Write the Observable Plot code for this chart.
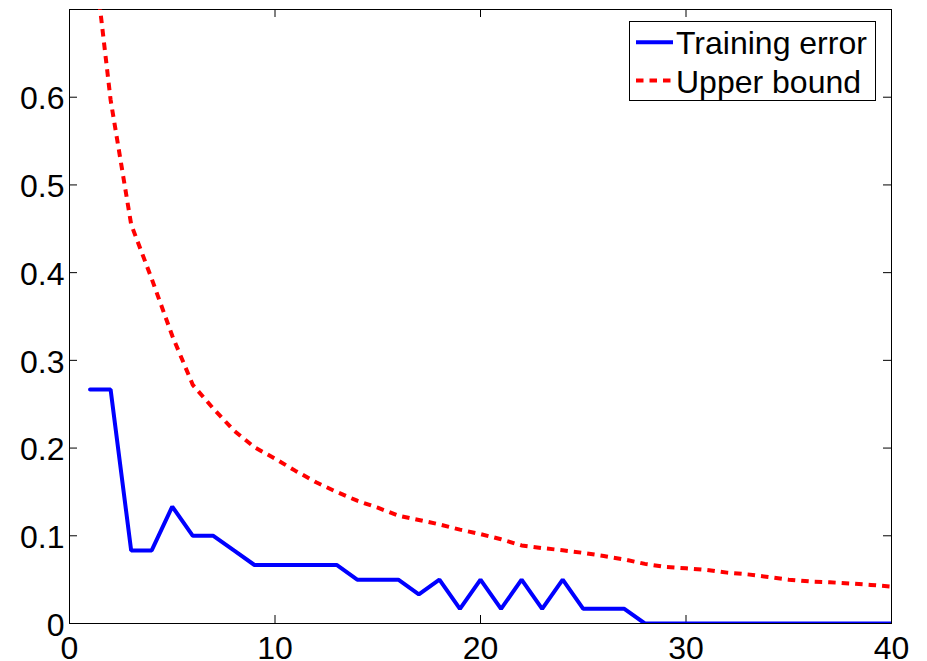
<!DOCTYPE html>
<html><head><meta charset="utf-8">
<script src="https://cdn.jsdelivr.net/npm/d3@7"></script>
<script src="https://cdn.jsdelivr.net/npm/@observablehq/plot@0.6"></script>
<style>
html,body{margin:0;padding:0;background:#fff;}
#wrap{position:relative;width:927px;height:661px;overflow:hidden;font-family:"Liberation Sans",Arial,Helvetica,sans-serif;}
#legend{position:absolute;left:629px;top:21px;width:247px;height:80px;box-sizing:border-box;border:1px solid #000;background:#fff;}
#legend svg{display:block;}
</style></head><body><div id="wrap"></div>
<script>
const iterations = [1,2,3,4,5,6,7,8,9,10,11,12,13,14,15,16,17,18,19,20,21,22,23,24,25,26,27,28,29,30,31,32,33,34,35,36,37,38,39,40];
const trainingError = [0.2667,0.2667,0.0833,0.0833,0.1333,0.1,0.1,0.0833,0.0667,0.0667,0.0667,0.0667,0.0667,0.05,0.05,0.05,0.0333,0.05,0.0167,0.05,0.0167,0.05,0.0167,0.05,0.0167,0.0167,0.0167,0,0,0,0,0,0,0,0,0,0,0,0,0];
const upperBound = [0.80,0.597,0.455,0.393,0.328,0.272,0.245,0.22,0.201,0.188,0.174,0.161,0.150,0.140,0.132,0.123,0.118,0.113,0.107,0.102,0.096,0.089,0.086,0.0835,0.0805,0.077,0.073,0.068,0.0645,0.063,0.061,0.058,0.056,0.053,0.050,0.048,0.047,0.0456,0.044,0.042];
const xTicks = [0,10,20,30,40];
const yTicks = [0,0.1,0.2,0.3,0.4,0.5,0.6];
const seriesNames = ["Training error","Upper bound"];
const seriesColors = ["#0000ff","#ff0000"];
const seriesDash = [null,"7.5,6"];

const W = 927, H = 661, mL = 69, mR = 36, mT = 9, mB = 38;
const pw = W - mL - mR, ph = H - mT - mB;
const FONT = '"Liberation Sans",Arial,Helvetica,sans-serif';

const chart = Plot.plot({
  width: W, height: H,
  marginLeft: mL, marginRight: mR, marginTop: mT, marginBottom: mB,
  style: {fontFamily: FONT, fontSize: "32px", color: "#000", background: "#fff", overflow: "visible"},
  x: {domain: [0, 40]},
  y: {domain: [0, 0.7]},
  marks: [
    Plot.axisX(xTicks, {tickSize: 0, tickPadding: 13, fontSize: 32, tickFormat: d => String(d), label: null}),
    Plot.axisY(yTicks, {tickSize: 0, tickPadding: 5, fontSize: 32, tickFormat: d => d === 0 ? "0" : d.toFixed(1), label: null, dy: 2}),
    Plot.tickX(xTicks, {x: d => d, insetTop: ph - 8, stroke: "#000", strokeWidth: 1}),
    Plot.tickX(xTicks, {x: d => d, insetBottom: ph - 8, stroke: "#000", strokeWidth: 1}),
    Plot.tickY(yTicks, {y: d => d, insetRight: pw - 8, stroke: "#000", strokeWidth: 1}),
    Plot.tickY(yTicks, {y: d => d, insetLeft: pw - 8, stroke: "#000", strokeWidth: 1}),
    Plot.frame({stroke: "#000", strokeWidth: 1}),
    Plot.line(iterations, {x: d => d, y: (d, i) => upperBound[i], stroke: seriesColors[1], strokeWidth: 4, strokeDasharray: seriesDash[1], strokeLinecap: "butt", strokeLinejoin: "miter", clip: true}),
    Plot.line(iterations, {x: d => d, y: (d, i) => trainingError[i], stroke: seriesColors[0], strokeWidth: 4, strokeLinejoin: "miter", clip: true})
  ]
});

const wrap = document.getElementById("wrap");
wrap.appendChild(chart);

// legend
const leg = d3.select(wrap).append("div").attr("id", "legend");
const lsvg = leg.append("svg").attr("width", 245).attr("height", 78);
const baselines = [32.3, 70.6];
const lineYs = [20.2, 58.5];
seriesNames.forEach((name, i) => {
  lsvg.append("line")
    .attr("x1", 6).attr("x2", 43).attr("y1", lineYs[i]).attr("y2", lineYs[i])
    .attr("stroke", seriesColors[i]).attr("stroke-width", 4)
    .attr("stroke-dasharray", seriesDash[i]);
  lsvg.append("text")
    .attr("x", 46).attr("y", baselines[i])
    .attr("font-family", FONT).attr("font-size", 32).attr("fill", "#000")
    .text(name);
});
</script>
</body></html>
